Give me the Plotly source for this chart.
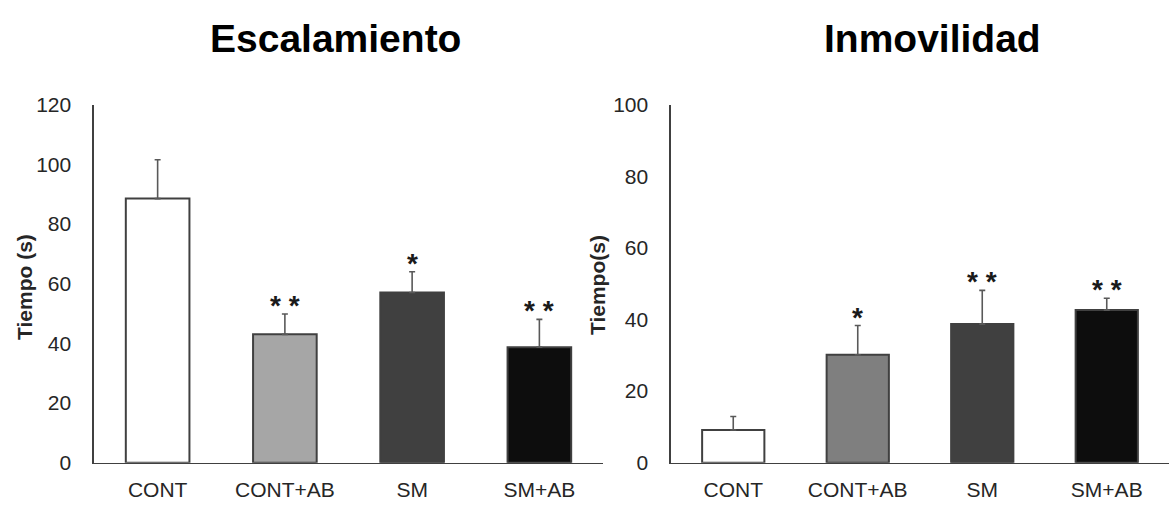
import plotly.graph_objects as go

categories = ["CONT", "CONT+AB", "SM", "SM+AB"]

# Escalamiento
esc_means = [88.5, 43.0, 57.0, 38.7]
esc_errs = [13.0, 6.8, 7.0, 9.3]
esc_sig = ["", "* *", "*", "* *"]
esc_colors = ["#ffffff", "#a6a6a6", "#404040", "#0d0d0d"]

# Inmovilidad
inm_means = [9.1, 30.1, 38.7, 42.6]
inm_errs = [3.8, 8.2, 9.4, 3.3]
inm_sig = ["", "*", "* *", "* *"]
inm_colors = ["#ffffff", "#7f7f7f", "#404040", "#0d0d0d"]

W, H = 1169, 508
TICK_FONT = dict(family="Liberation Sans, Arial", size=21, color="#262626")
LINE_COLOR = "#404040"

fig = go.Figure()

def add_bars(means, errs, colors, xa, ya):
    fig.add_trace(go.Bar(
        x=categories, y=means, width=0.5,
        marker=dict(color=colors, line=dict(color=LINE_COLOR, width=2)),
        error_y=dict(type="data", symmetric=False, array=errs, arrayminus=[0]*len(errs),
                     color="#595959", thickness=1.6, width=3),
        xaxis=xa, yaxis=ya, showlegend=False, hoverinfo="skip",
    ))

add_bars(esc_means, esc_errs, esc_colors, "x", "y")
add_bars(inm_means, inm_errs, inm_colors, "x2", "y2")

annotations = []
for means, errs, sig, xr, yr in [(esc_means, esc_errs, esc_sig, "x", "y"),
                                   (inm_means, inm_errs, inm_sig, "x2", "y2")]:
    for c, m, e, s in zip(categories, means, errs, sig):
        if s:
            annotations.append(dict(x=c, y=m + e, xref=xr, yref=yr, text="<b>" + s + "</b>", showarrow=False,
                                    yanchor="bottom", yshift=-9,
                                    font=dict(family="Liberation Sans, Arial", size=28, color="#1a1a1a")))

title_font = dict(family="Liberation Sans, Arial", size=39, color="#000000")
annotations += [
    dict(x=335 / W, y=(H - 28) / H, xref="paper", yref="paper", text="<b>Escalamiento</b>",
         showarrow=False, xanchor="center", yanchor="middle", font=title_font),
    dict(x=932 / W, y=(H - 28) / H, xref="paper", yref="paper", text="<b>Inmovilidad</b>",
         showarrow=False, xanchor="center", yanchor="middle", font=title_font),
]
ytitle_font = dict(family="Liberation Sans, Arial", size=21, color="#262626")
annotations += [
    dict(x=25 / W, y=(H - 288) / H, xref="paper", yref="paper", text="<b>Tiempo (s)</b>",
         showarrow=False, textangle=-90, xanchor="center", yanchor="middle", font=ytitle_font),
    dict(x=597 / W, y=(H - 286) / H, xref="paper", yref="paper", text="<b>Tiempo(s)</b>",
         showarrow=False, textangle=-90, xanchor="center", yanchor="middle", font=ytitle_font),
]

ydom = [(H - 472) / H, (H - 97) / H]
common_x = dict(showline=True, linecolor=LINE_COLOR, linewidth=1.6, ticks="", showgrid=False,
                zeroline=False, tickfont=TICK_FONT, range=[-0.5, 3.5], ticklabelstandoff=8,
                fixedrange=True)
common_y = dict(showline=True, linecolor=LINE_COLOR, linewidth=1.6, ticks="", showgrid=False,
                zeroline=False, tickfont=TICK_FONT, dtick=20, ticklabelstandoff=17, fixedrange=True)

fig.update_layout(
    width=W, height=H,
    margin=dict(l=0, r=0, t=0, b=0),
    paper_bgcolor="white", plot_bgcolor="white",
    xaxis=dict(domain=[94 / W, 603 / W], anchor="y", **common_x),
    yaxis=dict(domain=ydom, anchor="x", range=[0, 120], **common_y),
    xaxis2=dict(domain=[671 / W, 1.0], anchor="y2", **common_x),
    yaxis2=dict(domain=ydom, anchor="x2", range=[0, 100], **common_y),
    annotations=annotations,
)

fig.write_html(
    "out.html",
    config={"displayModeBar": False, "staticPlot": True},
    post_script="document.body.style.margin='0';document.body.style.padding='0';document.body.style.overflow='hidden';",
)
